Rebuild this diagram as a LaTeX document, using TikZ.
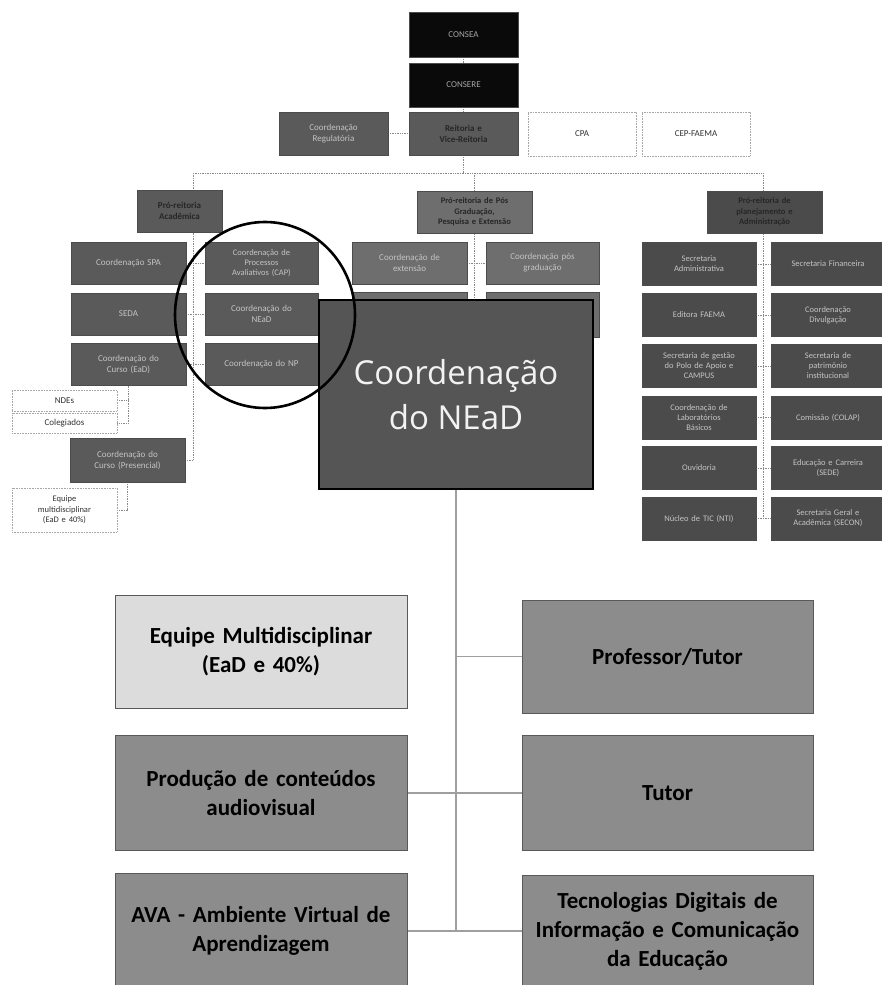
\documentclass[tikz,border=0pt]{standalone}
\usepackage{fontspec}
\setmainfont{Carlito}
\newfontfamily\bigfont{Open Sans}
\newfontfamily\boxfont[WordSpace=0.7]{Carlito}
\definecolor{blk}{HTML}{0A0A0A}
\definecolor{dk}{HTML}{5A5A5A}
\definecolor{dkr}{HTML}{4B4B4B}
\definecolor{md}{HTML}{6E6E6E}
\definecolor{big}{HTML}{555555}
\definecolor{mid}{HTML}{8C8C8C}
\definecolor{lt}{HTML}{DCDCDC}
\definecolor{ltxt}{HTML}{C4C4C4}
\definecolor{conn}{HTML}{8A8A8A}
\pgfdeclarelayer{bg}
\pgfsetlayers{bg,main}
\begin{document}
\begin{tikzpicture}[x=1pt,y=-1pt,
  sbox/.style={draw=black!70, line width=0.5pt, fill=#1, inner sep=1pt, align=center,
    font=\fontsize{9}{11}\selectfont, text=ltxt},
  hbox/.style={sbox=#1, text=black!85, font=\bfseries\fontsize{9}{11}\selectfont},
  wbox/.style={draw=gray!70, densely dotted, line width=0.6pt, fill=white, inner sep=1pt,
    align=center, font=\fontsize{9}{11}\selectfont, text=black!80},
  lbox/.style={draw=black!65, line width=0.8pt, fill=#1, inner sep=2pt, align=center,
    font=\boxfont\bfseries\fontsize{23}{29}\selectfont, text=black},
  dconn/.style={draw=conn, densely dotted, line width=0.7pt},
  sconn/.style={draw=gray!75, line width=1.1pt}]
\useasboundingbox (0,0) rectangle (881,985);
\begin{pgfonlayer}{bg}
\fill[white] (0,0) rectangle (881,985);
\end{pgfonlayer}

% ---- top ----
\node[sbox=blk, minimum width=109pt, minimum height=45pt, text width=100pt, text=gray!70] (consea) at (463.5,34.5) {CONSEA};
\node[sbox=blk, minimum width=109pt, minimum height=44pt, text width=100pt, text=gray!70] (consere) at (463.5,85) {CONSERE};
\node[hbox=dk, minimum width=109pt, minimum height=43pt, text width=100pt] (reitoria) at (463.5,133.5) {Reitoria e\\Vice-Reitoria};
\node[sbox=dk, minimum width=109pt, minimum height=43pt, text width=100pt] (coordreg) at (333.5,133.5) {Coordenação\\Regulatória};
\node[wbox, minimum width=108pt, minimum height=44pt, text width=100pt] (cpa) at (582,134) {CPA};
\node[wbox, minimum width=108pt, minimum height=44pt, text width=100pt] (cep) at (696,134) {CEP-FAEMA};

\coordinate (barL) at (193,173);
\coordinate (barM) at (474,173);
\coordinate (barR) at (763,173);

% ---- left column ----
\node[hbox=dk, minimum width=85pt, minimum height=42pt, text width=80pt] (pra) at (179.5,211) {Pró-reitoria\\Acadêmica};
\node[sbox=dk, minimum width=115pt, minimum height=42pt, text width=108pt] (spa) at (128.5,263) {Coordenação SPA};
\node[sbox=dk, minimum width=115pt, minimum height=42pt, text width=108pt] (seda) at (128.5,314) {SEDA};
\node[sbox=dk, minimum width=115pt, minimum height=42pt, text width=108pt] (cursoead) at (128.5,364.5) {Coordenação do\\Curso (EaD)};
\node[sbox=dk, minimum width=113pt, minimum height=42pt, text width=106pt, font=\fontsize{8.5}{10}\selectfont] (cap) at (261.5,263) {Coordenação de\\Processos\\Avaliativos (CAP)};
\node[sbox=dk, minimum width=113pt, minimum height=42pt, text width=106pt] (neads) at (261.5,314) {Coordenação do\\NEaD};
\node[sbox=dk, minimum width=113pt, minimum height=42pt, text width=106pt] (np) at (261.5,364.5) {Coordenação do NP};
\node[wbox, minimum width=105pt, minimum height=21pt, text width=100pt] (ndes) at (64.5,400.5) {NDEs};
\node[wbox, minimum width=105pt, minimum height=20pt, text width=100pt] (coleg) at (64.5,423) {Colegiados};
\node[sbox=dk, minimum width=115pt, minimum height=44pt, text width=108pt] (cursopres) at (127.5,460) {Coordenação do\\Curso (Presencial)};
\node[wbox, minimum width=105pt, minimum height=44pt, text width=100pt, font=\fontsize{8.5}{10.5}\selectfont] (equipes) at (64.5,510) {Equipe\\multidisciplinar\\(EaD e 40\%)};

% ---- middle column ----
\node[hbox=md, minimum width=115pt, minimum height=42pt, text width=110pt, font=\bfseries\fontsize{8.5}{10.5}\selectfont] (pro2) at (474.5,212) {Pró-reitoria de Pós\\Graduação,\\Pesquisa e Extensão};
\node[sbox=md, minimum width=115pt, minimum height=42pt, text width=108pt] (ext) at (409.5,263) {Coordenação de\\extensão};
\node[sbox=md, minimum width=113pt, minimum height=42pt, text width=106pt] (pos) at (542.5,263) {Coordenação pós\\graduação};
\node[sbox=md, minimum width=115pt, minimum height=43pt] (m3l) at (409.5,313.5) {};
\node[sbox=md, minimum width=113pt, minimum height=45pt] (m3r) at (542.5,314.5) {};

% ---- right column ----
\node[hbox=dkr, minimum width=115pt, minimum height=42pt, text width=110pt, font=\bfseries\fontsize{8.5}{10.5}\selectfont] (pro3) at (764.5,212) {Pró-reitoria de\\planejamento e\\Administração};
\foreach \nm/\yy/\txt in {la/264/{Secretaria\\Administrativa}, lb/315/{Editora FAEMA},
  lc/366/{Secretaria de gestão\\do Polo de Apoio e\\CAMPUS}, ld/417.5/{Coordenação de\\Laboratórios\\Básicos},
  le/468/{Ouvidoria}, lf/518.5/{Núcleo de TIC (NTI)}}
  \node[sbox=dkr, minimum width=114pt, minimum height=43pt, text width=108pt, font=\fontsize{8.5}{10}\selectfont] (\nm) at (699,\yy) {\txt};
\foreach \nm/\yy/\txt in {ra/264/{Secretaria Financeira}, rb/315/{Coordenação\\Divulgação},
  rc/366/{Secretaria de\\patrimônio\\institucional}, rd/417.5/{Comissão (COLAP)},
  re/468/{Educação e Carreira\\(SEDE)}, rf/518.5/{Secretaria Geral e\\Acadêmica (SECON)}}
  \node[sbox=dkr, minimum width=114pt, minimum height=43pt, text width=100pt, font=\fontsize{8.5}{10}\selectfont] (\nm) at (828,\yy) {\txt};

% ---- big NEaD box ----
\node[draw=black, line width=1.2pt, fill=big, minimum width=274pt, minimum height=189pt, inner sep=0pt,
  align=center, text=white!90!gray, font=\bigfont\fontsize{33}{45}\selectfont] (nead) at (456,394.5) {Coordenação\\do NEaD};

% circle highlight
\draw[black, line width=2.6pt] (265,315) ellipse [x radius=90, y radius=93];

% ---- bottom ----
\node[lbox=lt, minimum width=292pt, minimum height=113pt, text width=280pt] (eq) at (261,651.5) {Equipe Multidisciplinar\\(EaD e 40\%)};
\node[lbox=mid, minimum width=292pt, minimum height=115pt, text width=280pt] (prod) at (261,793) {Produção de conteúdos\\audiovisual};
\node[lbox=mid, minimum width=292pt, minimum height=116pt, text width=280pt] (ava) at (261,931) {AVA - Ambiente Virtual de\\Aprendizagem};
\node[lbox=mid, minimum width=291pt, minimum height=113pt, text width=280pt] (prof) at (667.5,656.5) {Professor/Tutor};
\node[lbox=mid, minimum width=291pt, minimum height=115pt, text width=280pt] (tutor) at (667.5,793) {Tutor};
\node[lbox=mid, minimum width=291pt, minimum height=112pt, text width=284pt] (tec) at (667.5,931) {Tecnologias Digitais de\\Informação e Comunicação\\da Educação};

% ---- connectors ----
\begin{pgfonlayer}{bg}
\draw[dconn] (consea.south) -- (consere.north);
\draw[dconn] (consere.south) -- (reitoria.north);
\draw[dconn] (coordreg.east) -- (reitoria.west);
\draw[dconn] (reitoria.south) -- (reitoria.south |- barL);
\draw[dconn] (barL) -- (barR);
% left
\draw[dconn] (barL) |- (cursopres.east);
\draw[dconn] (spa.east) -- (cap.west);
\draw[dconn] (seda.east) -- (neads.west);
\draw[dconn] (cursoead.east) -- (np.west);
\draw[dconn] (cursoead.south) |- (coleg.east);
\draw[dconn] (ndes.east) -- (ndes.east -| cursoead.south);
\draw[dconn] (cursopres.south) |- (equipes.east);
% middle
\draw[dconn] (barM) -- (474,300);
\draw[dconn] (ext.east) -- (pos.west);
% right
\draw[dconn] (barR) -- (barR |- lf.east);
\foreach \a/\b in {la/ra,lb/rb,lc/rc,ld/rd,le/re,lf/rf}
  \draw[dconn] (\a.east) -- (\b.west);
% bottom
\draw[sconn] (nead.south) -- (nead.south |- ava.east);
\draw[sconn] (nead.south |- prof.west) -- (prof.west);
\draw[sconn] (prod.east) -- (tutor.west);
\draw[sconn] (ava.east) -- (tec.west);
\end{pgfonlayer}
\end{tikzpicture}
\end{document}
